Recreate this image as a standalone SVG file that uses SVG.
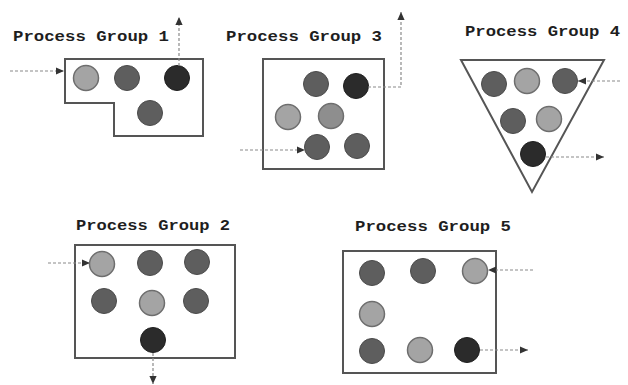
<svg xmlns="http://www.w3.org/2000/svg" width="628" height="385" viewBox="0 0 628 385">
  <style>
    .title { font-family: "Liberation Mono", "DejaVu Sans Mono", monospace; font-weight: bold; font-size: 15.5px; fill: #1e1e1e; }
    .frame { fill: #fff; stroke: #555; stroke-width: 2; }
    .light { fill: #a4a4a4; stroke: #6e6e6e; stroke-width: 1.5; }
    .mid { fill: #5e5e5e; stroke: #4a4a4a; stroke-width: 1; }
    .dark { fill: #2b2b2b; stroke: #1e1e1e; stroke-width: 1; }
    .flow { fill: none; stroke: #8a8a8a; stroke-width: 1.2; stroke-dasharray: 3 2; }
  </style>
  <defs>
    <marker id="head" viewBox="0 0 10 10" refX="10" refY="5" markerWidth="10" markerHeight="8" markerUnits="userSpaceOnUse" orient="auto">
      <path d="M0,0.5 L10,5 L0,9.5 z" fill="#333"/>
    </marker>
  </defs>
  <rect width="628" height="385" fill="#fff"/>

  <!-- Process Group 1: L-shaped frame -->
  <g id="group1">
    <text class="title" x="13" y="41" textLength="156" lengthAdjust="spacingAndGlyphs">Process Group 1</text>
    <path class="frame" d="M65,59 H203 V136 H114 V103 H65 Z"/>
    <circle class="light" cx="86" cy="78" r="12.5"/>
    <circle class="mid" cx="127" cy="78" r="12.5"/>
    <circle class="dark" cx="177" cy="78" r="12.5"/>
    <circle class="mid" cx="150" cy="113" r="12.5"/>
  </g>

  <!-- Process Group 3: square frame -->
  <g id="group3">
    <text class="title" x="226" y="41" textLength="156" lengthAdjust="spacingAndGlyphs">Process Group 3</text>
    <rect class="frame" x="263" y="59" width="121" height="110"/>
    <circle class="mid" cx="316" cy="84" r="12.5"/>
    <circle class="dark" cx="356" cy="86" r="12.5"/>
    <circle class="light" cx="288" cy="117" r="12.5"/>
    <circle class="light" cx="331" cy="116" r="12.5" style="fill:#8e8e8e"/>
    <circle class="mid" cx="317" cy="147" r="12.5"/>
    <circle class="mid" cx="357" cy="146" r="12.5"/>
  </g>

  <!-- Process Group 4: inverted triangle -->
  <g id="group4">
    <text class="title" x="465" y="36" textLength="155" lengthAdjust="spacingAndGlyphs">Process Group 4</text>
    <path class="frame" d="M461,60 H604 L532,192 Z"/>
    <circle class="mid" cx="494" cy="84" r="12.5"/>
    <circle class="light" cx="527" cy="81" r="12.5"/>
    <circle class="mid" cx="565" cy="81" r="12.5"/>
    <circle class="mid" cx="513" cy="121" r="12.5"/>
    <circle class="light" cx="549" cy="119" r="12.5"/>
    <circle class="dark" cx="533" cy="154" r="12.5"/>
  </g>

  <!-- Process Group 2: wide frame -->
  <g id="group2">
    <text class="title" x="76" y="230" textLength="154" lengthAdjust="spacingAndGlyphs">Process Group 2</text>
    <rect class="frame" x="75" y="245" width="160" height="113"/>
    <circle class="light" cx="102" cy="264" r="12.5"/>
    <circle class="mid" cx="150" cy="263" r="12.5"/>
    <circle class="mid" cx="197" cy="262" r="12.5"/>
    <circle class="mid" cx="104" cy="301" r="12.5"/>
    <circle class="light" cx="152" cy="303" r="12.5"/>
    <circle class="mid" cx="196" cy="301" r="12.5"/>
    <circle class="dark" cx="153" cy="340" r="12.5"/>
  </g>

  <!-- Process Group 5: wide frame -->
  <g id="group5">
    <text class="title" x="355" y="231" textLength="156" lengthAdjust="spacingAndGlyphs">Process Group 5</text>
    <rect class="frame" x="343" y="251" width="153" height="122"/>
    <circle class="mid" cx="372" cy="273" r="12.5"/>
    <circle class="mid" cx="423" cy="271" r="12.5"/>
    <circle class="light" cx="475" cy="271" r="12.5"/>
    <circle class="light" cx="372" cy="314" r="12.5"/>
    <circle class="mid" cx="372" cy="351" r="12.5"/>
    <circle class="light" cx="420" cy="350" r="12.5"/>
    <circle class="dark" cx="467" cy="350" r="12.5"/>
  </g>

  <!-- flows in and out of each group -->
  <g id="connectors">
    <path class="flow" d="M10,71 H64" marker-end="url(#head)"/>
    <path class="flow" d="M179,66 V17" marker-end="url(#head)"/>
    <path class="flow" d="M240,150 H305" marker-end="url(#head)"/>
    <path class="flow" d="M368,87 H401 V12" marker-end="url(#head)"/>
    <path class="flow" d="M620,81 H578" marker-end="url(#head)"/>
    <path class="flow" d="M546,157 H604" marker-end="url(#head)"/>
    <path class="flow" d="M48,263 H90" marker-end="url(#head)"/>
    <path class="flow" d="M153,353 V384" marker-end="url(#head)"/>
    <path class="flow" d="M533,270 H488" marker-end="url(#head)"/>
    <path class="flow" d="M480,350 H528" marker-end="url(#head)"/>
  </g>
</svg>
